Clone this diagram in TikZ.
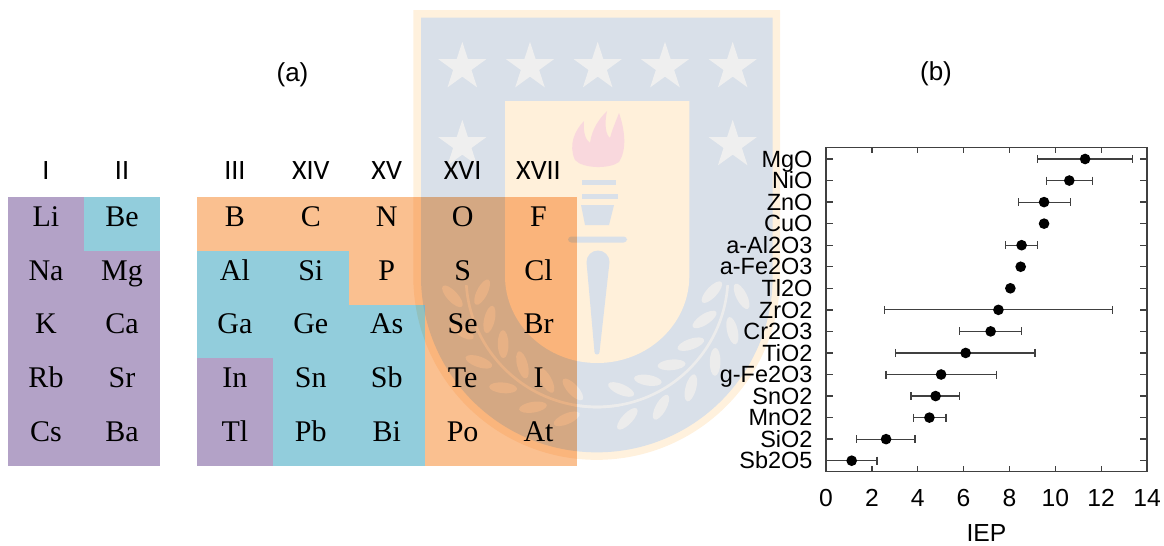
\documentclass[tikz,border=0pt]{standalone}
\usepackage{fontspec}
\setmainfont{Liberation Serif}
\newfontfamily\grpfont{Carlito}
\newfontfamily\plotfont{Liberation Sans}
\usetikzlibrary{shapes.geometric}
\definecolor{purp}{HTML}{B3A2C7}
\definecolor{aqua}{HTML}{92CDDC}
\definecolor{oran}{HTML}{FAC090}
\definecolor{wmedge}{HTML}{FFF1DD}
\definecolor{wmblue}{HTML}{D9E0E9}
\definecolor{wmstar}{HTML}{EFEFEF}
\definecolor{wmpanel}{HTML}{FFF0DA}
\definecolor{wmflame}{HTML}{F9D8DD}
\definecolor{wmleaf}{HTML}{ECECEC}
\definecolor{axisgray}{HTML}{404040}
\tikzset{
  cellbox/.style={minimum width=57pt, minimum height=40.3pt, inner sep=0pt,
                  text height=15pt, text depth=11.5pt, font=\fontsize{22.5}{24}\selectfont},
  grplbl/.style={anchor=base, inner sep=0pt, font=\grpfont\fontsize{21}{24}\selectfont},
  oxlbl/.style={anchor=base east, inner sep=0pt, font=\plotfont\fontsize{17.6}{20}\selectfont},
  ticklbl/.style={anchor=base, inner sep=0pt, font=\plotfont\fontsize{18.5}{20}\selectfont},
  panlbl/.style={anchor=base, inner sep=0pt, font=\plotfont\fontsize{19.5}{22}\selectfont},
  axisline/.style={draw=axisgray, line width=1pt},
  errbar/.style={draw=axisgray, line width=0.9pt},
  dot/.style={circle, fill=black, inner sep=0pt, minimum size=8pt},
  wmstarbox/.style={star, star points=5, star point ratio=2.618, fill=wmstar, inner sep=0pt, minimum size=37.8pt},
  leaf/.style={ellipse, fill=wmleaf, inner sep=0pt, minimum width=21pt, minimum height=8pt},
}
\begin{document}
\begin{tikzpicture}[x=0.75pt,y=-0.75pt]
\useasboundingbox (0,0) rectangle (1164,546);

% watermark
\fill[wmedge] (413.3,10) -- (780,10) -- (780,276.5) arc[start angle=0,end angle=180,radius=183.35] -- cycle;
\fill[wmblue] (421,17.7) -- (772.7,17.7) -- (772.7,276.5) arc[start angle=0,end angle=180,radius=175.85] -- cycle;
\fill[wmpanel] (505,101) -- (689.3,101) -- (689.3,276) arc[start angle=0,end angle=180,x radius=92.15,y radius=87] -- cycle;
\foreach \x [count=\i] in {462.3,530,597.7,665,732.7}
    \node[wmstarbox] (sa\i) at (\x,67) {};
\foreach \x [count=\i] in {462.3,732.7}
    \node[wmstarbox] (sb\i) at (\x,145) {};
\draw[wmleaf, line width=2pt] (597,276) ++(176:131) arc[start angle=176,end angle=80,radius=131];
\draw[wmleaf, line width=2pt] (597,276) ++(4:131) arc[start angle=4,end angle=100,radius=131];
\foreach \a in {102,116,...,172} {
    \node[leaf, rotate=-\a-55]  (lo\a) at ([shift={(597,276)}]\a:146) {};
    \node[leaf, rotate=-\a-125] (li\a) at ([shift={(597,276)}]\a:116) {};
    \node[leaf, rotate=\a+125]  (ro\a) at ([shift={(597,276)}]180-\a:146) {};
    \node[leaf, rotate=\a+55]   (ri\a) at ([shift={(597,276)}]180-\a:116) {};
}
\fill[wmflame] (575,160) .. controls (568,145) and (575,130) .. (584,121)
    .. controls (583,134) and (586,140) .. (590,143) .. controls (592,128) and (600,118) .. (607,111)
    .. controls (604,125) and (606,135) .. (610,138) .. controls (612,130) and (616,121) .. (619,113)
    .. controls (625,130) and (627,150) .. (619,162) .. controls (610,169) and (583,169) .. (575,160) -- cycle;
\fill[wmblue] (582,180) rectangle (616,185);
\fill[wmblue] (582,194) rectangle (618,199);
\fill[wmblue] (581,205) -- (614,205) -- (609,225) -- (585,225) -- cycle;
\fill[wmblue, rounded corners=2.5pt] (568,236.5) rectangle (627,242.5);
\fill[wmblue] (586.5,262) arc[start angle=180,end angle=360,radius=11.5]
    -- (599.5,352) arc[start angle=0,end angle=180,radius=2.5] -- cycle;

% periodic table
\begin{scope}[blend mode=multiply]
\foreach \s/\col/\row/\f in {Li/0/0/purp, Be/1/0/aqua, Na/0/1/purp, Mg/1/1/purp, K/0/2/purp,
        Ca/1/2/purp, Rb/0/3/purp, Sr/1/3/purp, Cs/0/4/purp, Ba/1/4/purp}
    \node[cellbox, fill=\f] (\s) at ({46+76*\col},{224.15+53.7*\row}) {\s};
\foreach \s/\col/\row/\f in {B/0/0/oran, C/1/0/oran, N/2/0/oran, O/3/0/oran, F/4/0/oran,
        Al/0/1/aqua, Si/1/1/aqua, P/2/1/oran, S/3/1/oran, Cl/4/1/oran,
        Ga/0/2/aqua, Ge/1/2/aqua, As/2/2/aqua, Se/3/2/oran, Br/4/2/oran,
        In/0/3/purp, Sn/1/3/aqua, Sb/2/3/aqua, Te/3/3/oran, I/4/3/oran,
        Tl/0/4/purp, Pb/1/4/aqua, Bi/2/4/aqua, Po/3/4/oran, At/4/4/oran}
    \node[cellbox, fill=\f] (\s) at ({234.9+75.9*\col},{224.15+53.7*\row}) {\s};
\end{scope}
\foreach \g/\x in {I/46, II/122, III/234.9, XIV/310.8, XV/386.7, XVI/462.6, XVII/538.5}
    \node[grplbl] (g\g) at (\x,179.3) {\g};
\node[panlbl] (pa) at (292.5,81) {(a)};

% IEP plot
\node[panlbl] (pb) at (936,80) {(b)};
\begin{scope}[shift={(826,0)}, x=17.1975pt]
\draw[axisline] (0,147.3) rectangle (14,471.7);
\foreach \t in {2,4,...,12} {
    \draw[axisline] (\t,147.3) -- ++(0,6);
    \draw[axisline] (\t,471.7) -- ++(0,-6);
}
\foreach \t in {0,2,...,14}
    \node[ticklbl] (t\t) at (\t,506.7) {\t};
\node[ticklbl] (xlab) at (7,541) {IEP};
\foreach \k/\lo/\hi in {0/9.21/13.35, 1/9.62/11.61, 2/8.39/10.67, 4/7.84/9.23, 7/2.56/12.49,
        8/5.83/8.52, 9/3.04/9.11, 10/2.62/7.43, 11/3.71/5.83, 12/3.81/5.23, 13/1.34/3.88, 14/0/2.22} {
    \pgfmathsetmacro\y{159+21.55*\k}
    \coordinate (lo\k) at (\lo,\y);
    \coordinate (hi\k) at (\hi,\y);
    \draw[errbar] (lo\k) -- (hi\k);
    \draw[errbar] (lo\k) ++(0,-4) -- ++(0,8);
    \draw[errbar] (hi\k) ++(0,-4) -- ++(0,8);
}
\foreach \n/\v [count=\k from 0] in {MgO/11.3, NiO/10.61, ZnO/9.51, CuO/9.51, a-Al2O3/8.53,
        a-Fe2O3/8.49, Tl2O/8.04, ZrO2/7.52, Cr2O3/7.18, TiO2/6.09, g-Fe2O3/5.02,
        SnO2/4.78, MnO2/4.51, SiO2/2.62, Sb2O5/1.12} {
    \pgfmathsetmacro\y{159+21.55*\k}
    \draw[axisline] (0,\y) -- ++(0.3,0);
    \draw[axisline] (14,\y) -- ++(-0.3,0);
    \node[oxlbl] (ox\k) at (-0.58,\y+8.2) {\n};
    \node[dot] (pt\k) at (\v,\y) {};
}
\end{scope}
\end{tikzpicture}
\end{document}
